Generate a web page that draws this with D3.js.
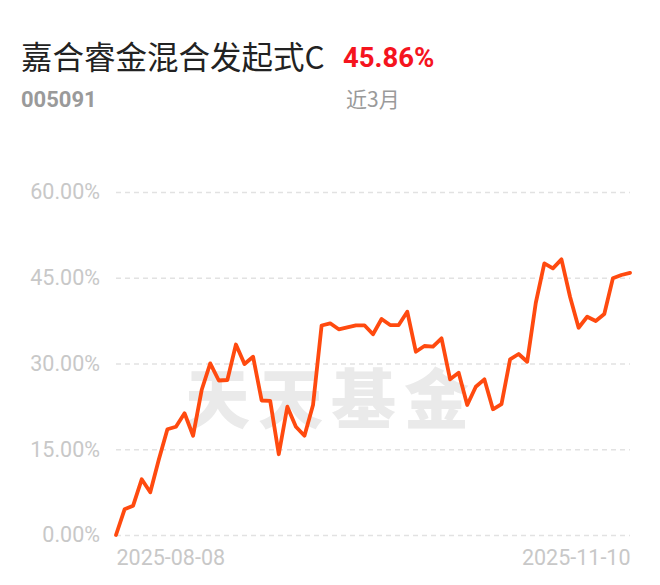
<!DOCTYPE html>
<html>
<head>
<meta charset="utf-8">
<script src="https://cdn.jsdelivr.net/npm/d3@7/dist/d3.min.js"></script>
<style>
html,body{margin:0;padding:0;background:#fff;}
svg{display:block;}
</style>
</head>
<body>
<svg id="chart" width="660" height="585"></svg>
<script>
const fundName = "嘉合睿金混合发起式C";
const fundCode = "005091";
const periodReturn = "45.86%";
const periodLabel = "近3月";
const watermark = "天天基金";

const yTicks = [0, 15, 30, 45, 60];
const xTickLabels = ["2025-08-08", "2025-11-10"];

const returns = [
  0, 4.50, 5.13, 9.74, 7.47, 13.2, 18.49, 18.94, 21.29, 17.37,
  25.36, 30.03, 27.03, 27.11, 33.32, 29.91, 31.19, 23.53, 23.47, 14.13,
  22.44, 18.94, 17.37, 22.74, 36.65, 37.03, 35.98, 36.33, 36.68, 36.68,
  35.11, 37.78, 36.73, 36.73, 39.06, 32.06, 33.06, 32.94, 34.41, 27.23,
  28.39, 22.74, 25.94, 27.23, 21.99, 22.91, 30.73, 31.66, 30.31, 40.58,
  47.52, 46.65, 48.22, 41.68, 36.26, 38.18, 37.43, 38.66, 44.90, 45.48,
  45.86
];

const svg = d3.select("#chart");
const mLeft = 116, mRight = 630, mTop = 192, mBottom = 535;

const x = d3.scaleLinear().domain([0, returns.length - 1]).range([mLeft, mRight]);
const y = d3.scaleLinear().domain([0, 60]).range([mBottom, mTop]);

// Title block
svg.append("text").attr("x", 21).attr("y", 69)
  .attr("font-family", "'Noto Sans CJK SC', 'Noto Sans', sans-serif")
  .attr("font-size", 31.5).attr("fill", "#222").text(fundName);
svg.append("text").attr("x", 343).attr("y", 67)
  .attr("font-family", "Roboto, 'Noto Sans', sans-serif").attr("font-weight", "bold")
  .attr("font-size", 27.5).attr("fill", "#f5141e").text(periodReturn);
svg.append("text").attr("x", 21).attr("y", 107)
  .attr("font-family", "Roboto, 'Noto Sans', sans-serif").attr("font-weight", "bold")
  .attr("font-size", 22).attr("fill", "#9a9a9a").text(fundCode);
svg.append("text").attr("x", 346).attr("y", 107)
  .attr("font-family", "'Noto Sans CJK SC', Roboto, sans-serif")
  .attr("font-size", 21).attr("fill", "#9a9a9a").text(periodLabel);

// Watermark
svg.append("text").attr("x", 331).attr("y", 423).attr("text-anchor", "middle")
  .attr("font-family", "'Noto Sans CJK SC', sans-serif").attr("font-weight", "900")
  .attr("font-size", 65).attr("letter-spacing", 8).attr("fill", "#eaeaea").text(watermark);

// Grid
const yAxis = d3.axisLeft(y).tickValues(yTicks)
  .tickFormat(d => d.toFixed(2) + "%")
  .tickSize(-(mRight - mLeft)).tickPadding(16);
const gy = svg.append("g").attr("transform", `translate(${mLeft},0)`).call(yAxis);
gy.select(".domain").remove();
gy.selectAll(".tick line").attr("stroke", "#e2e2e2").attr("stroke-width", 1.3)
  .attr("stroke-dasharray", "5,4");
gy.selectAll(".tick text").attr("font-family", "Roboto, sans-serif")
  .attr("font-size", 21.5).attr("fill", "#c8c8c8");

// X labels
const xAxis = d3.axisBottom(x).tickValues([0, returns.length - 1])
  .tickFormat((d, i) => xTickLabels[i]).tickSize(0).tickPadding(15);
const gx = svg.append("g").attr("transform", `translate(0,${mBottom})`).call(xAxis);
gx.select(".domain").remove();
gx.selectAll(".tick text").attr("font-family", "Roboto, sans-serif")
  .attr("font-size", 21.5).attr("fill", "#c8c8c8")
  .attr("text-anchor", (d, i) => i === 0 ? "start" : "end");

// Line
const line = d3.line().x((d, i) => x(i)).y(d => y(d));
svg.append("path").datum(returns).attr("d", line)
  .attr("fill", "none").attr("stroke", "#ff4a0f").attr("stroke-width", 3.8)
  .attr("stroke-linejoin", "round").attr("stroke-linecap", "round");
</script>
</body>
</html>
